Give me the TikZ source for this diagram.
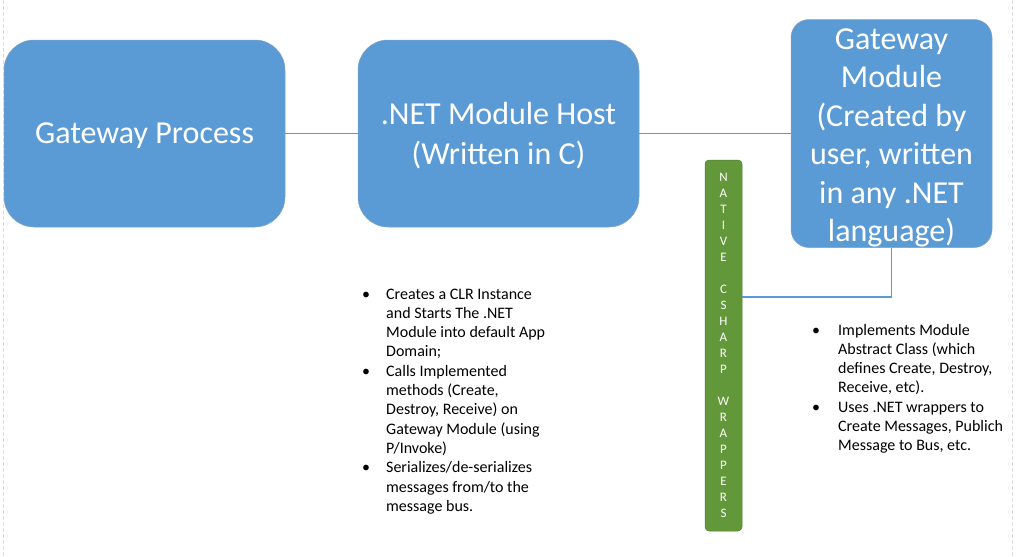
\documentclass[tikz,border=0pt]{standalone}
\usepackage{fontspec}
\setmainfont{Carlito}
\usepackage{tikz}
\usetikzlibrary{shapes.geometric, arrows}
\definecolor{boxblue}{RGB}{91,155,213}
\definecolor{boxedge}{RGB}{130,163,200}
\definecolor{wrapgreen}{RGB}{98,152,58}
\definecolor{wrapedge}{RGB}{82,128,50}
\tikzstyle{block} = [rectangle, rounded corners=30pt, minimum width=281pt, minimum height=187pt, text centered, fill=boxblue, draw=boxedge, line width=0.5pt, text=white, inner sep=0pt, font=\fontsize{32}{40}\selectfont]
\tikzstyle{tallblock} = [block, rounded corners=18pt, minimum width=201pt, minimum height=228pt, align=center, font=\fontsize{32}{38.5}\selectfont]
\tikzstyle{wrapper} = [rectangle, rounded corners=4pt, minimum width=37pt, minimum height=371pt, fill=wrapgreen, draw=wrapedge, line width=0.5pt, text=white, align=center, inner sep=0pt, font=\fontsize{13}{16}\selectfont]
\tikzstyle{notes} = [anchor=base west, inner sep=0pt, font=\fontsize{16}{19.3}\selectfont]
\tikzstyle{link} = [draw=boxblue, line width=1.1pt]
\tikzstyle{pageedge} = [draw=black!13, line width=0.8pt, dash pattern=on 4pt off 2pt]

\begin{document}
\begin{tikzpicture}[x=1pt, y=-1pt, node distance=354pt]
\useasboundingbox (0,0) rectangle (1021,557);
\draw [pageedge] (3.5,0) -- (3.5,557);
\draw [pageedge] (1012,0) -- (1012,557);
\node (proc) [block, text depth=0pt] at (144.5,133.5) {Gateway Process};
\node (host) [block, right of=proc, align=center] {\rule{0pt}{26pt}.NET Module Host\\(Written in C)};
\node (mod) [tallblock, right of=host, xshift=39pt] {\rule{0pt}{29pt}Gateway\\Module\\(Created by\\user, written\\in any .NET\\language)};
\node (wrap) [wrapper, right of=host, xshift=-129pt, yshift=-212pt] {N\\A\\T\\I\\V\\E\\\mbox{}\\C\\S\\H\\A\\R\\P\\\mbox{}\\W\\R\\A\\P\\P\\E\\R\\S};
\node (hostnotes) [notes] at (362,299) {\begin{tabular}[t]{@{}p{24pt}@{}l@{}}
\textbullet & Creates a CLR Instance\\
 & and Starts The .NET\\
 & Module into default App\\
 & Domain;\\
\textbullet & Calls Implemented\\
 & methods (Create,\\
 & Destroy, Receive) on\\
 & Gateway Module (using\\
 & P/Invoke)\\
\textbullet & Serializes/de-serializes\\
 & messages from/to the\\
 & message bus.
\end{tabular}};
\node (modnotes) [notes] at (812,335) {\begin{tabular}[t]{@{}p{26pt}@{}l@{}}
\textbullet & Implements Module\\
 & Abstract Class (which\\
 & defines Create, Destroy,\\
 & Receive, etc).\\
\textbullet & Uses .NET wrappers to\\
 & Create Messages, Publich\\
 & Message to Bus, etc.
\end{tabular}};
\draw [link] (proc) -- (host);
\draw [link] (host) -- (mod);
\draw [link] (mod.south) |- ([yshift=48.5pt]wrap.east);
\end{tikzpicture}
\end{document}
